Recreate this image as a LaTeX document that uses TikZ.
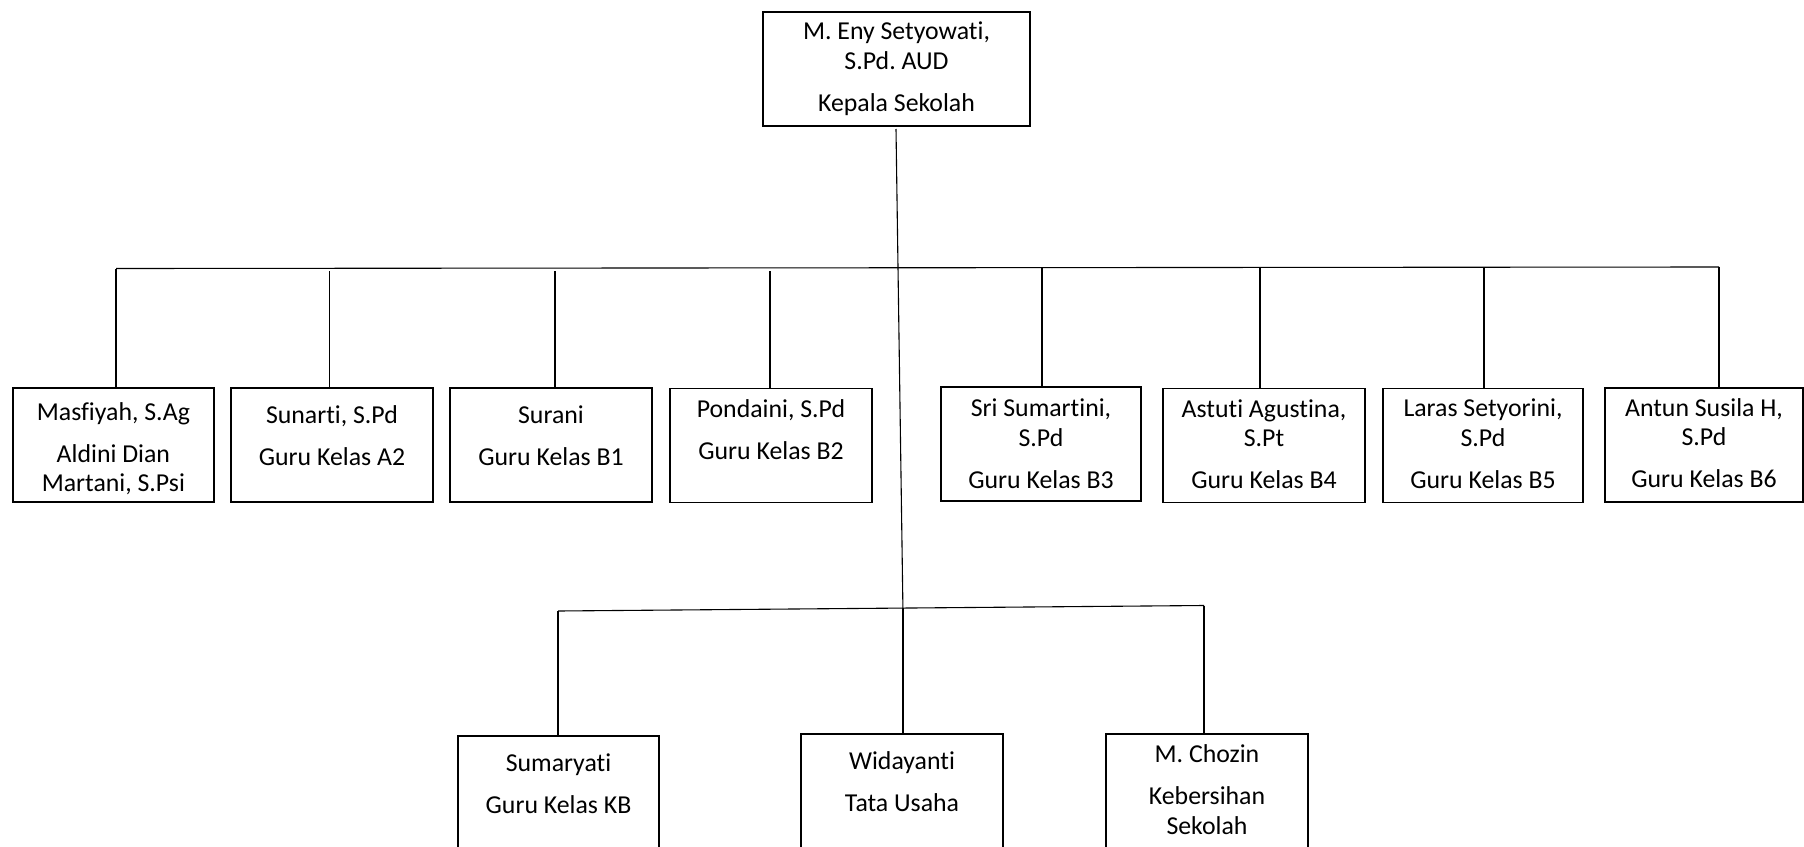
\documentclass[tikz,border=0pt]{standalone}
\usepackage{fontspec}
\setmainfont{Carlito}[Ligatures={NoCommon}]
\frenchspacing
\begin{document}
\frenchspacing
\begin{tikzpicture}[x=1pt,y=-1pt,
  box/.style={draw, line width=1.8pt, inner sep=0pt, minimum width=201pt, minimum height=114pt},
  txt/.style={anchor=base, inner sep=0pt, font=\fontsize{25.8}{29.5}\selectfont},
  conn/.style={line width=1.1pt}]
\useasboundingbox (0,0) rectangle (1804,846);
\clip (0,0) rectangle (1804,846);
% boxes
\node[box, minimum width=267pt] (b0) at (896.5,69) {};
\node[box] (b1) at (113.4,445) {};
\node[box, minimum width=202pt] (b2) at (332,445) {};
\node[box, minimum width=202pt] (b3) at (551,445) {};
\node[box, minimum width=202pt] (b4) at (771,445.5) {};
\node[box, minimum width=200pt] (b5) at (1041,444) {};
\node[box, minimum width=202pt] (b6) at (1264,445.5) {};
\node[box, minimum width=200pt] (b7) at (1483,445.5) {};
\node[box, minimum width=198pt] (b8) at (1704,445) {};
\node[box, minimum height=160pt] (c1) at (558.5,816) {};
\node[box, minimum width=202pt, minimum height=160pt] (c2) at (902,814) {};
\node[box, minimum width=202pt, minimum height=160pt] (c3) at (1207,814) {};
% texts
\node[txt] (t0) at (896.5,39.5) {\begin{tabular}[t]{@{}c@{}}M. Eny Setyowati,\\ S.Pd. AUD\\[12.5pt] Kepala Sekolah\end{tabular}};
\node[txt] (t1) at (113.4,420) {\begin{tabular}[t]{@{}c@{}}Masfiyah, S.Ag\\[12.5pt] Aldini Dian\\ Martani, S.Psi\end{tabular}};
\node[txt] (t2) at (332,423) {\begin{tabular}[t]{@{}c@{}}Sunarti, S.Pd\\[12.5pt] Guru Kelas A2\end{tabular}};
\node[txt] (t3) at (551,423) {\begin{tabular}[t]{@{}c@{}}Surani\\[12.5pt] Guru Kelas B1\end{tabular}};
\node[txt] (t4) at (771,417) {\begin{tabular}[t]{@{}c@{}}Pondaini, S.Pd\\[12.5pt] Guru Kelas B2\end{tabular}};
\node[txt] (t5) at (1041,416.5) {\begin{tabular}[t]{@{}c@{}}Sri Sumartini,\\ S.Pd\\[12.5pt] Guru Kelas B3\end{tabular}};
\node[txt] (t6) at (1264,417) {\begin{tabular}[t]{@{}c@{}}Astuti Agustina,\\ S.Pt\\[12.5pt] Guru Kelas B4\end{tabular}};
\node[txt] (t7) at (1483,416.5) {\begin{tabular}[t]{@{}c@{}}Laras Setyorini,\\ S.Pd\\[12.5pt] Guru Kelas B5\end{tabular}};
\node[txt] (t8) at (1704,416) {\begin{tabular}[t]{@{}c@{}}Antun Susila H,\\ S.Pd\\[12.5pt] Guru Kelas B6\end{tabular}};
\node[txt] (u1) at (558.5,771) {\begin{tabular}[t]{@{}c@{}}Sumaryati\\[12.5pt] Guru Kelas KB\end{tabular}};
\node[txt] (u2) at (902,769) {\begin{tabular}[t]{@{}c@{}}Widayanti\\[12.5pt] Tata Usaha\end{tabular}};
\node[txt] (u3) at (1207,762.5) {\begin{tabular}[t]{@{}c@{}}M. Chozin\\[12.5pt] Kebersihan\\ Sekolah\end{tabular}};
% connector points
\coordinate (m0) at (896,129);
\coordinate (m1) at (903,614);
\coordinate (hL) at (116,268.5);
\coordinate (hR) at (1719,267);
\coordinate (d1) at (116,268.5);
\coordinate (d2) at (329.5,271);
\coordinate (d3) at (555,271);
\coordinate (d4) at (770,271);
\coordinate (d5) at (1042,268);
\coordinate (d6) at (1260,267.5);
\coordinate (d7) at (1484,267.5);
\coordinate (d8) at (1719,267);
\coordinate (lL) at (558,611);
\coordinate (lM) at (903,608);
\coordinate (lR) at (1204,605.5);
% connectors
\draw[conn] (m0) -- (m1);
\draw[conn] (hL) -- (hR);
\foreach \i in {1,...,8} {\draw[conn] (d\i) -- (d\i |- b\i.north);}
\draw[conn] (lL) -- (lR);
\draw[conn] (lL) -- ([yshift=-2pt]lL |- c1.north);
\draw[conn] (lM) -- (lM |- c2.north);
\draw[conn] (lR) -- (lR |- c3.north);
\end{tikzpicture}
\end{document}
